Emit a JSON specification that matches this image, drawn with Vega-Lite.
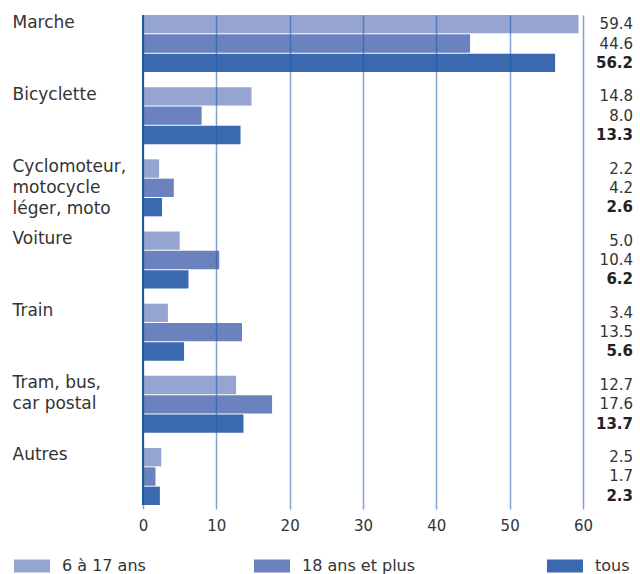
{
  "$schema": "https://vega.github.io/schema/vega-lite/v6.json",
  "width": 440,
  "height": 490,
  "padding": {"left": 12, "top": 13, "right": 7, "bottom": 3},
  "autosize": {"type": "pad"},
  "config": {"view": {"stroke": null}, "font": "DejaVu Sans"},
  "data": {
    "values": [
      {"cat": "Marche", "group": "6 à 17 ans", "value": 59.4},
      {"cat": "Marche", "group": "18 ans et plus", "value": 44.6},
      {"cat": "Marche", "group": "tous", "value": 56.2},
      {"cat": "Bicyclette", "group": "6 à 17 ans", "value": 14.8},
      {"cat": "Bicyclette", "group": "18 ans et plus", "value": 8.0},
      {"cat": "Bicyclette", "group": "tous", "value": 13.3},
      {"cat": "Cyclomoteur,|motocycle|léger, moto", "group": "6 à 17 ans", "value": 2.2},
      {"cat": "Cyclomoteur,|motocycle|léger, moto", "group": "18 ans et plus", "value": 4.2},
      {"cat": "Cyclomoteur,|motocycle|léger, moto", "group": "tous", "value": 2.6},
      {"cat": "Voiture", "group": "6 à 17 ans", "value": 5.0},
      {"cat": "Voiture", "group": "18 ans et plus", "value": 10.4},
      {"cat": "Voiture", "group": "tous", "value": 6.2},
      {"cat": "Train", "group": "6 à 17 ans", "value": 3.4},
      {"cat": "Train", "group": "18 ans et plus", "value": 13.5},
      {"cat": "Train", "group": "tous", "value": 5.6},
      {"cat": "Tram, bus,|car postal", "group": "6 à 17 ans", "value": 12.7},
      {"cat": "Tram, bus,|car postal", "group": "18 ans et plus", "value": 17.6},
      {"cat": "Tram, bus,|car postal", "group": "tous", "value": 13.7},
      {"cat": "Autres", "group": "6 à 17 ans", "value": 2.5},
      {"cat": "Autres", "group": "18 ans et plus", "value": 1.7},
      {"cat": "Autres", "group": "tous", "value": 2.3}
    ]
  },
  "layer": [
    {
      "mark": {"type": "bar"},
      "encoding": {
        "y": {
          "field": "cat", "type": "nominal", "title": null,
          "sort": ["Marche", "Bicyclette", "Cyclomoteur,|motocycle|léger, moto", "Voiture", "Train", "Tram, bus,|car postal", "Autres"],
          "scale": {"paddingInner": 0.21, "paddingOuter": 0},
          "axis": {
            "orient": "left", "ticks": false, "domain": false,
            "labelAlign": "left", "labelBaseline": "top", "labelPadding": 131,
            "labelExpr": "split(datum.label, '|')",
            "labelLineHeight": 21, "labelFontSize": 17, "labelColor": "#333333",
            "labelOffset": -29, "labelLimit": 200
          }
        },
        "yOffset": {
          "field": "group", "type": "nominal",
          "sort": ["6 à 17 ans", "18 ans et plus", "tous"],
          "scale": {"paddingInner": 0.05, "paddingOuter": 0}
        },
        "x": {
          "field": "value", "type": "quantitative", "title": null,
          "scale": {"domain": [0, 60], "nice": false},
          "axis": {
            "values": [0, 10, 20, 30, 40, 50, 60],
            "grid": true, "gridColor": "#1a5aa8", "gridOpacity": 0.55, "gridWidth": 1.5,
            "domain": false, "tickColor": "#1a5aa8", "tickOpacity": 0.55, "tickWidth": 1.5, "tickSize": 4,
            "labelFontSize": 15, "labelColor": "#333333", "labelPadding": 9, "labelFlush": false,
            "zindex": 1
          }
        },
        "color": {
          "field": "group", "type": "nominal",
          "sort": ["6 à 17 ans", "18 ans et plus", "tous"],
          "scale": {"domain": ["6 à 17 ans", "18 ans et plus", "tous"], "range": ["#95a4d1", "#6b82be", "#3a69af"]},
          "legend": {
            "orient": "none", "legendX": -129, "legendY": 533, "direction": "horizontal", "title": null,
            "symbolType": "M-1,-0.36H1V0.36H-1Z", "symbolSize": 1296, "symbolStrokeWidth": 0, "symbolOpacity": 1,
            "labelFontSize": 16, "labelColor": "#333333", "labelOffset": 12, "columnPadding": 108,
            "labelExpr": "datum.label === '18 ans et plus' ? '18 ans et plus\u2800\u2800' : datum.label"
          }
        }
      }
    },
    {
      "mark": {"type": "rule", "color": "#1a56a0", "strokeWidth": 1.5},
      "encoding": {"x": {"datum": 0, "type": "quantitative", "title": null}}
    },
    {
      "transform": [{"filter": "datum.group !== 'tous'"}],
      "mark": {"type": "text", "align": "right", "baseline": "middle", "dx": 50, "fontSize": 15, "color": "#333333"},
      "encoding": {
        "y": {"field": "cat", "type": "nominal", "title": null, "sort": ["Marche", "Bicyclette", "Cyclomoteur,|motocycle|léger, moto", "Voiture", "Train", "Tram, bus,|car postal", "Autres"]},
        "yOffset": {"field": "group", "type": "nominal", "sort": ["6 à 17 ans", "18 ans et plus", "tous"]},
        "x": {"datum": 60, "type": "quantitative", "title": null},
        "text": {"field": "value", "type": "quantitative", "format": ".1f"}
      }
    },
    {
      "transform": [{"filter": "datum.group === 'tous'"}],
      "mark": {"type": "text", "align": "right", "baseline": "middle", "dx": 50, "fontSize": 15, "fontWeight": "bold", "color": "#222222"},
      "encoding": {
        "y": {"field": "cat", "type": "nominal", "title": null, "sort": ["Marche", "Bicyclette", "Cyclomoteur,|motocycle|léger, moto", "Voiture", "Train", "Tram, bus,|car postal", "Autres"]},
        "yOffset": {"field": "group", "type": "nominal", "sort": ["6 à 17 ans", "18 ans et plus", "tous"]},
        "x": {"datum": 60, "type": "quantitative", "title": null},
        "text": {"field": "value", "type": "quantitative", "format": ".1f"}
      }
    }
  ]
}
